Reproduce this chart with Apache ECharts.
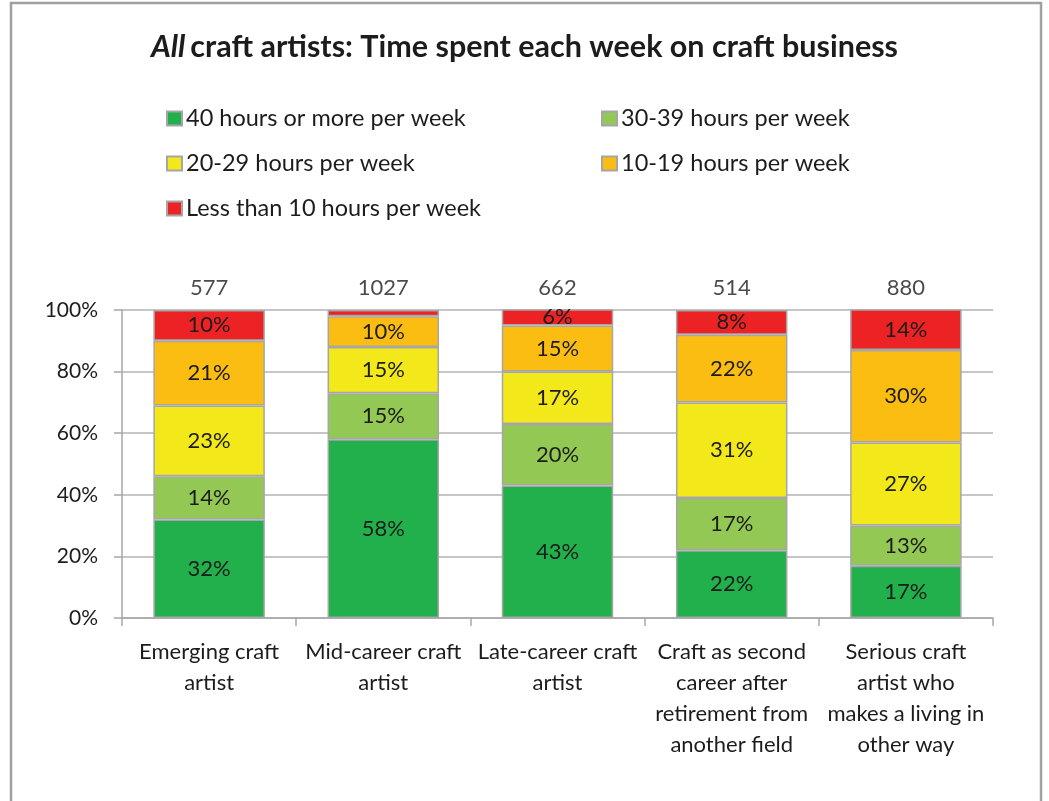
<!DOCTYPE html>
<html>
<head>
<meta charset="utf-8">
<title>All craft artists: Time spent each week on craft business</title>
<script src="https://cdn.jsdelivr.net/npm/echarts@6/dist/echarts.min.js"></script>
<style>
  html, body { margin: 0; padding: 0; background: #ffffff; }
  #chart { width: 1049px; height: 801px; }
</style>
</head>
<body>
<div id="chart"></div>
<script>
// Artist groups (line breaks as they wrap under the axis)
const categories = [
  'Emerging craft\nartist',
  'Mid-career craft\nartist',
  'Late-career craft\nartist',
  'Craft as second\ncareer after\nretirement from\nanother field',
  'Serious craft\nartist who\nmakes a living in\nother way'
];

// Respondents per group, shown above each bar
const counts = [577, 1027, 662, 514, 880];

// Share of each group (%) by weekly hours
const hours40plus = [32, 58, 43, 22, 17];
const hours30to39 = [14, 15, 20, 17, 13];
const hours20to29 = [23, 15, 17, 31, 27];
const hours10to19 = [21, 10, 15, 22, 30];
const hoursUnder10 = [10, 2, 6, 8, 14];

const seriesNames = [
  '40 hours or more per week',
  '30-39 hours per week',
  '20-29 hours per week',
  '10-19 hours per week',
  'Less than 10 hours per week'
];
const seriesData = [hours40plus, hours30to39, hours20to29, hours10to19, hoursUnder10];
const seriesColors = ['#21b04b', '#92c853', '#f2e81a', '#fbbd12', '#ed2224'];

const yTicks = [0, 20, 40, 60, 80, 100];

const FONT = 'Lato, "Open Sans", sans-serif';
const GRAY = '#a6a6a6';
const INK = '#1c1c1c';

const chart = echarts.init(document.getElementById('chart'), null, { renderer: 'canvas' });

const barSeries = seriesNames.map((name, i) => ({
  name: name,
  type: 'bar',
  stack: 'share',
  barCategoryGap: '36%',
  data: seriesData[i],
  itemStyle: { color: seriesColors[i], borderColor: GRAY, borderWidth: 1.5 },
  label: {
    show: true,
    position: 'inside',
    fontFamily: FONT,
    fontSize: 22,
    color: INK,
    formatter: p => (p.value >= 5 ? p.value + '%' : '')
  },
  emphasis: { disabled: true }
}));

// Respondent counts sit just above the 100% line
const countSeries = {
  name: 'n',
  type: 'scatter',
  symbolSize: 0,
  data: counts.map((c, i) => ({ value: [i, 100], n: c })),
  label: {
    show: true,
    position: 'top',
    distance: 11,
    fontFamily: FONT,
    fontSize: 22,
    color: INK,
    formatter: p => String(p.data.n)
  },
  silent: true,
  z: 5
};

const legendCommon = {
  orient: 'vertical',
  icon: 'rect',
  itemWidth: 15,
  itemHeight: 14,
  itemGap: 18,
  selectedMode: false,
  textStyle: { fontFamily: FONT, fontSize: 23.5, lineHeight: 27, color: INK, padding: [0, 0, 0, -1] }
};

chart.setOption({
  backgroundColor: '#ffffff',
  animation: false,
  graphic: [{
    type: 'rect',
    shape: { x: 11, y: 3, width: 1030, height: 820 },
    style: { fill: 'none', stroke: '#a0a0a0', lineWidth: 2.5 },
    silent: true
  }],
  title: {
    text: '{i|All} {b|craft artists: Time spent each week on craft business}',
    left: 'center',
    top: 27,
    textStyle: {
      rich: {
        i: { fontFamily: FONT, fontSize: 30.5, fontWeight: 'bold', fontStyle: 'italic', color: INK },
        b: { fontFamily: FONT, fontSize: 30.5, fontWeight: 'bold', color: INK }
      }
    }
  },
  legend: [
    Object.assign({}, legendCommon, { left: 161, top: 100, data: [seriesNames[0], seriesNames[2], seriesNames[4]] }),
    Object.assign({}, legendCommon, { left: 596, top: 100, data: [seriesNames[1], seriesNames[3]] })
  ],
  grid: { left: 122, right: 56, top: 310, bottom: 183, containLabel: false },
  xAxis: {
    type: 'category',
    data: categories,
    axisLine: { show: true, lineStyle: { color: GRAY, width: 1.5 } },
    axisTick: { show: true, length: 8, alignWithLabel: false, lineStyle: { color: GRAY, width: 1.5 } },
    axisLabel: {
      interval: 0,
      margin: 18,
      fontFamily: FONT,
      fontSize: 22,
      lineHeight: 31,
      color: INK
    }
  },
  yAxis: {
    type: 'value',
    min: yTicks[0],
    max: yTicks[yTicks.length - 1],
    interval: 20,
    axisLine: { show: true, lineStyle: { color: GRAY, width: 1.5 } },
    axisTick: { show: true, length: 8, lineStyle: { color: GRAY, width: 1.5 } },
    splitLine: { show: true, lineStyle: { color: '#b3b3b3', width: 1.5 } },
    axisLabel: {
      margin: 24,
      fontFamily: FONT,
      fontSize: 21,
      color: INK,
      formatter: v => v + '%'
    }
  },
  series: barSeries.concat([countSeries])
});
</script>
</body>
</html>
